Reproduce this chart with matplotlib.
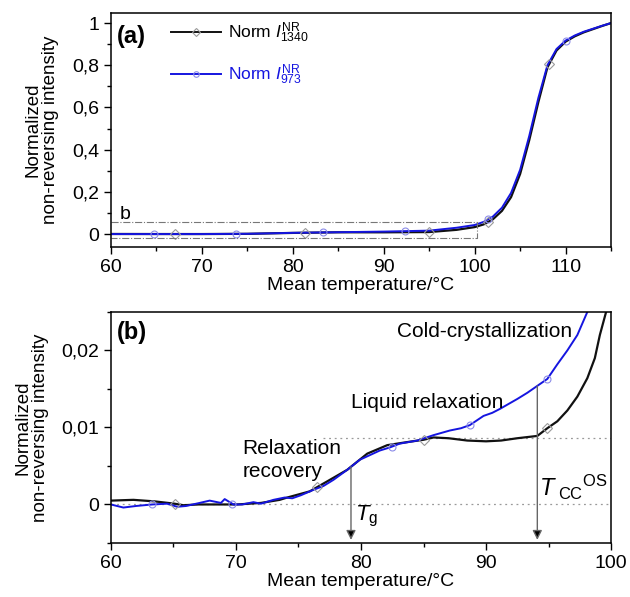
import numpy as np
import matplotlib
matplotlib.use("Agg")
import matplotlib.pyplot as plt
from matplotlib.lines import Line2D
from matplotlib.ticker import FuncFormatter, MultipleLocator

plt.rcParams["font.family"] = ["Liberation Sans", "DejaVu Sans"]
plt.rcParams["mathtext.fontset"] = "custom"
plt.rcParams["mathtext.rm"] = "Liberation Sans"
plt.rcParams["mathtext.it"] = "Liberation Sans:italic"

# panel (a): whole scan
temp_a = [60, 65, 70, 75, 80, 85, 90, 95, 98, 100, 101, 102, 103, 104, 105,
          106, 107, 108, 109, 110, 111, 112, 113, 114, 115]
norm1340_a = [0.0005, 0.0002, 0.0001, 0.0012, 0.0055, 0.0084, 0.0083, 0.0095,
              0.02, 0.033, 0.046, 0.07, 0.11, 0.175, 0.285, 0.445, 0.625, 0.79,
              0.87, 0.912, 0.937, 0.956, 0.971, 0.986, 1.0]
norm973_a = [0.0, 0.0001, 0.0001, 0.0013, 0.0058, 0.0088, 0.0118, 0.0163,
             0.03, 0.043, 0.058, 0.083, 0.125, 0.195, 0.305, 0.465, 0.645, 0.80,
             0.877, 0.917, 0.941, 0.959, 0.973, 0.987, 1.0]
markers1340_a = [67.0, 81.3, 95.0, 101.5, 108.2]
markers973_a = [64.7, 73.8, 83.3, 92.3, 101.5, 110.0]

# panel (b): zoom on the low-intensity region
temp_1340 = [60, 61.8, 63.5, 65.1, 65.8, 67, 68.2, 70.1, 72, 73.5, 74.1, 75.9,
             77.3, 78.9, 80.5, 82.1, 83.7, 85, 85.8, 87, 88.5, 90, 91.2, 92.5,
             94.1, 94.9, 95.7, 96.5, 97.3, 98.1, 98.7, 99.1, 99.6]
norm1340_b = [0.0005, 0.0006, 0.0004, 0.0001, -0.0001, 0.0, 0.0, 0.0, 0.0002,
              0.0006, 0.0009, 0.0017, 0.003, 0.0045, 0.0066, 0.0077, 0.0081,
              0.0084, 0.0087, 0.0086, 0.0083, 0.0082, 0.0083, 0.0086, 0.0089,
              0.0099, 0.0108, 0.0122, 0.014, 0.0164, 0.019, 0.022, 0.025]
temp_973 = [60, 61, 62, 63.3, 64.5, 65.3, 66, 67.1, 67.9, 68.8, 69.1, 69.8,
            70.5, 71.4, 72, 73, 73.9, 74.5, 75.2, 76.2, 77, 77.8, 78.9, 79.9,
            80.7, 81.5, 82.3, 83.1, 84.5, 85.8, 87.1, 88, 88.7, 89.8, 90.5,
            91.1, 92.5, 93.3, 94.1, 94.9, 95.7, 96.5, 97.3, 98.1]
norm973_b = [0.0, -0.0004, -0.0002, 0.0, 0.0001, -0.0003, -0.0002, 0.0002,
             0.0005, 0.0002, 0.0007, 0.0, 0.0, 0.0003, 0.0001, 0.0006, 0.0009,
             0.0008, 0.0012, 0.0019, 0.0024, 0.0032, 0.0045, 0.0058, 0.0064,
             0.007, 0.0074, 0.0079, 0.0083, 0.009, 0.0096, 0.0099, 0.0103,
             0.0115, 0.0119, 0.0124, 0.0137, 0.0145, 0.0154, 0.0163, 0.0182,
             0.02, 0.022, 0.025]
markers1340_b = [65.1, 76.5, 85.0, 94.9]
markers973_b = [63.3, 69.7, 82.5, 88.7, 94.9]

plateau = 0.0086
tg = 79.2
tcc = 94.1

BLACK = "#111111"
BLUE = "#1515e0"
GREY_MK = "#9a9a9a"
BLUE_MK = "#8c8ce8"


def comma(v, pos):
    if abs(v) < 1e-12:
        return "0"
    return ("%g" % v).replace(".", ",")


def style_axes(ax):
    ax.tick_params(which="both", direction="out", labelsize=14, width=1)
    ax.tick_params(which="major", length=5)
    ax.tick_params(which="minor", length=3)
    for s in ax.spines.values():
        s.set_linewidth(1.1)
    ax.yaxis.set_major_formatter(FuncFormatter(comma))
    ax.set_xlabel("Mean temperature/°C", fontsize=14, labelpad=1)
    ax.set_ylabel("Normalized\nnon-reversing intensity", fontsize=13.5,
                  linespacing=1.05, labelpad=9)


fig = plt.figure(figsize=(6.3, 5.97), dpi=100)
ax1 = fig.add_axes([0.176, 0.586, 0.794, 0.392])
ax2 = fig.add_axes([0.176, 0.0905, 0.794, 0.387])

# ---- (a)
ax1.plot(temp_a, norm1340_a, color=BLACK, lw=1.6)
ax1.plot(temp_a, norm973_a, color=BLUE, lw=1.4)
ax1.plot(markers1340_a, np.interp(markers1340_a, temp_a, norm1340_a), ls="none",
         marker="D", ms=5, mfc="none", mec=GREY_MK, mew=0.8)
ax1.plot(markers973_a, np.interp(markers973_a, temp_a, norm973_a), ls="none",
         marker="o", ms=5, mfc="none", mec=BLUE_MK, mew=0.8)
ax1.plot([60, 100.3, 100.3, 60], [0.055, 0.055, -0.02, -0.02], color="#777777",
         ls="-.", lw=0.8)
ax1.text(61, 0.07, "b", fontsize=14)
ax1.set_xlim(60, 115)
ax1.set_ylim(-0.062, 1.047)
ax1.xaxis.set_major_locator(MultipleLocator(10))
ax1.xaxis.set_minor_locator(MultipleLocator(5))
ax1.yaxis.set_major_locator(MultipleLocator(0.2))
ax1.yaxis.set_minor_locator(MultipleLocator(0.1))
style_axes(ax1)
ax1.text(0.012, 0.95, "(a)", transform=ax1.transAxes, fontsize=17,
         fontweight="bold", va="top")

h1 = Line2D([], [], color=BLACK, lw=1.4, marker="D", ms=4, mfc="none",
            mec=GREY_MK, mew=0.8)
h2 = Line2D([], [], color=BLUE, lw=1.4, marker="o", ms=4, mfc="none",
            mec=BLUE_MK, mew=0.8)
leg = ax1.legend([h1, h2], [r"Norm $I_{1340}^{\rm NR}$", r"Norm $I_{973}^{\rm NR}$"],
                 loc="upper left", bbox_to_anchor=(0.088, 1.035), frameon=False,
                 fontsize=12.5, handlelength=2.9, labelspacing=1.0,
                 handletextpad=0.4, numpoints=1)
leg.get_texts()[1].set_color(BLUE)

# ---- (b)
ax2.axhline(0, color="#999999", ls=(0, (1.5, 3)), lw=0.9)
ax2.plot([77, 100], [plateau, plateau], color="#999999", ls=(0, (1.5, 3)), lw=0.9)
ax2.plot(temp_1340, norm1340_b, color=BLACK, lw=1.6)
ax2.plot(temp_973, norm973_b, color=BLUE, lw=1.4)
ax2.plot(markers1340_b, np.interp(markers1340_b, temp_1340, norm1340_b),
         ls="none", marker="D", ms=5, mfc="none", mec=GREY_MK, mew=0.8)
ax2.plot(markers973_b, np.interp(markers973_b, temp_973, norm973_b),
         ls="none", marker="o", ms=5, mfc="none", mec=BLUE_MK, mew=0.8)

for x0, y0 in [(tg, np.interp(tg, temp_1340, norm1340_b)),
               (tcc, np.interp(tcc, temp_973, norm973_b))]:
    ax2.annotate("", xy=(x0, -0.0046), xytext=(x0, y0),
                 arrowprops=dict(arrowstyle="-|>", color="#666666", lw=1.0,
                                 mutation_scale=14, shrinkA=0, shrinkB=0,
                                 fc="black", ec="#666666"))
ax2.text(tg + 0.3, -0.0015, r"$T_{\rm g}$", fontsize=16, va="center")
ax2.text(tcc + 0.1, 0.0022, r"$T_{\ \rm CC}{}^{\rm OS}$", fontsize=17, va="center")

ax2.text(96.9, 0.0224, "Cold-crystallization", fontsize=15, ha="right",
         va="center")
ax2.text(79.2, 0.0132, "Liquid relaxation", fontsize=15, va="center")
ax2.text(70.5, 0.0058, "Relaxation\nrecovery", fontsize=15, linespacing=1.3,
         va="center")

ax2.set_xlim(60, 100)
ax2.set_ylim(-0.005, 0.025)
ax2.xaxis.set_major_locator(MultipleLocator(10))
ax2.xaxis.set_minor_locator(MultipleLocator(5))
ax2.yaxis.set_major_locator(MultipleLocator(0.01))
ax2.yaxis.set_minor_locator(MultipleLocator(0.005))
style_axes(ax2)
ax2.text(0.012, 0.96, "(b)", transform=ax2.transAxes, fontsize=17,
         fontweight="bold", va="top")

fig.savefig("out.png", dpi=100)
